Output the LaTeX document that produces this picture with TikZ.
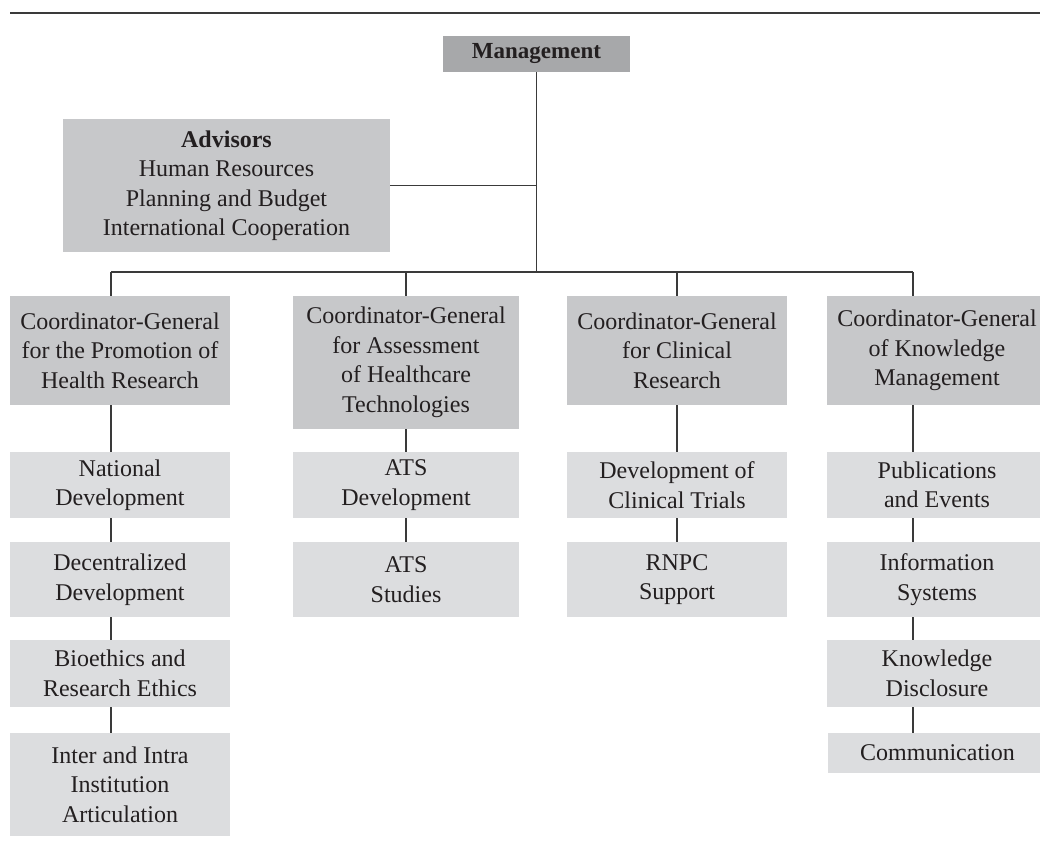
\documentclass[tikz,border=0pt]{standalone}
\usepackage{fontspec}
\setmainfont{Liberation Serif}
\definecolor{dk}{HTML}{A7A8AA}
\definecolor{md}{HTML}{C7C8CA}
\definecolor{lt}{HTML}{DCDDDF}
\definecolor{ink}{HTML}{231F20}
\definecolor{ln}{HTML}{3A3A3A}
\begin{document}
\begin{tikzpicture}[x=1pt,y=-1pt,
  base/.style={rectangle,inner sep=0pt,outer sep=0pt,align=center,text=ink,
    font=\fontsize{24}{29.5}\selectfont,minimum width=#1},
  topbox/.style={base=187,fill=dk,minimum height=36},
  midbox/.style={base=#1,fill=md},
  subbox/.style={base=#1,fill=lt},
  conn/.style={draw=ln,line width=1.2pt}]
\useasboundingbox (0,0) rectangle (1040,844);
\clip (0,0) rectangle (1040,844);
\fill[white] (0,0) rectangle (1040,844);
\draw[ln,line width=1.4pt] (10,13) -- (1040,13);

\node[topbox,font=\fontsize{23}{29}\selectfont] (mgmt) at (536.5,54) {\textbf{Management}};
\node[midbox=327,minimum height=133] (adv) at (226.5,185.5)
  {\textbf{Advisors}\\Human Resources\\Planning and Budget\\International Cooperation};

\node[midbox=220,minimum height=109] (c1) at (120,350.5) {Coordinator-General\\for the Promotion of\\Health Research};
\node[midbox=226,minimum height=133] (c2) at (406,362.5) {Coordinator-General\\for Assessment\\of Healthcare\\Technologies};
\node[midbox=220,minimum height=109] (c3) at (677,350.5) {Coordinator-General\\for Clinical\\Research};
\node[midbox=220,minimum height=109] (c4) at (937,350.5) {Coordinator-General\\of Knowledge\\Management};

\node[subbox=220,minimum height=66] (n1) at (120,485) {National\\Development};
\node[subbox=226,minimum height=66] (n2) at (406,485) {ATS\\Development};
\node[subbox=220,minimum height=66] (n3) at (677,485) {Development of\\Clinical Trials};
\node[subbox=220,minimum height=66] (n4) at (937,485) {Publications\\and Events};

\node[subbox=220,minimum height=75] (d1) at (120,579.5) {Decentralized\\Development};
\node[subbox=226,minimum height=75] (d2) at (406,579.5) {ATS\\Studies};
\node[subbox=220,minimum height=75] (d3) at (677,579.5) {RNPC\\Support};
\node[subbox=220,minimum height=75] (d4) at (937,579.5) {Information\\Systems};

\node[subbox=220,minimum height=67] (b1) at (120,673.5) {Bioethics and\\Research Ethics};
\node[subbox=220,minimum height=67] (b4) at (937,673.5) {Knowledge\\Disclosure};

\node[subbox=220,minimum height=103] (e1) at (120,784.5) {Inter and Intra\\Institution\\Articulation};
\node[subbox=219,minimum height=40] (e4) at (937.5,753) {Communication};

\coordinate (bus) at (536.5,272);
\coordinate (j1) at (111,272);
\coordinate (j2) at (406,272);
\coordinate (j3) at (677,272);
\coordinate (j4) at (913,272);

\draw[conn] (mgmt.south) -- (bus);
\draw[conn] (adv.east) -- (adv.east -| mgmt.south);
\draw[conn] (j1) -- (j4);
\draw[conn] (j1) -- (j1 |- c1.north);
\draw[conn] (j2) -- (j2 |- c2.north);
\draw[conn] (j3) -- (j3 |- c3.north);
\draw[conn] (j4) -- (j4 |- c4.north);

\draw[conn] (c1.south -| j1) -- (n1.north -| j1);
\draw[conn] (n1.south -| j1) -- (d1.north -| j1);
\draw[conn] (d1.south -| j1) -- (b1.north -| j1);
\draw[conn] (b1.south -| j1) -- (e1.north -| j1);

\draw[conn] (c2.south -| j2) -- (n2.north -| j2);
\draw[conn] (n2.south -| j2) -- (d2.north -| j2);

\draw[conn] (c3.south -| j3) -- (n3.north -| j3);
\draw[conn] (n3.south -| j3) -- (d3.north -| j3);

\draw[conn] (c4.south -| j4) -- (n4.north -| j4);
\draw[conn] (n4.south -| j4) -- (d4.north -| j4);
\draw[conn] (d4.south -| j4) -- (b4.north -| j4);
\draw[conn] (b4.south -| j4) -- (e4.north -| j4);
\end{tikzpicture}
\end{document}
